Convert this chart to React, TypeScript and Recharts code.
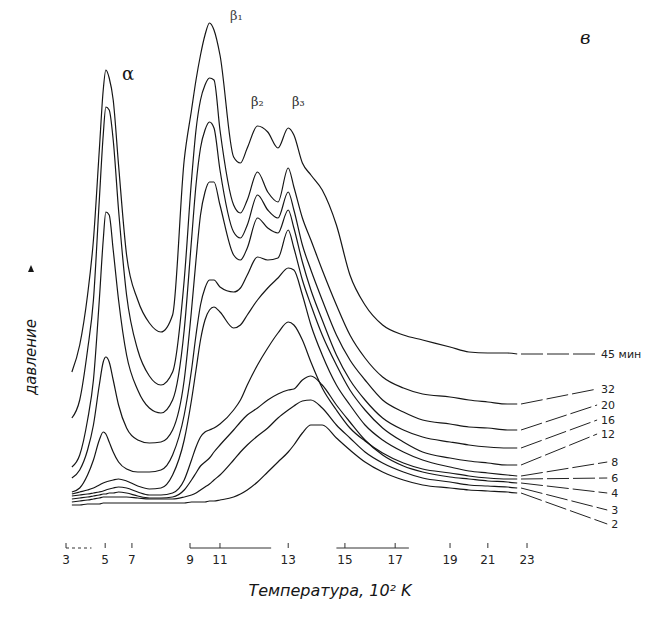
import React from "react";
import {
  LineChart,
  Line,
  XAxis,
  YAxis,
  ReferenceLine,
  LabelList,
  Customized,
} from "recharts";

// temperature grid, 10^2 K
const TEMPS = [
  3.3, 3.7, 4.1, 4.4, 4.7, 4.9, 5.05, 5.3, 5.6, 6.0, 6.6, 7.2, 7.6, 8.0, 8.4,
  8.8, 9.1, 9.4, 9.7, 10.0, 10.3, 10.6, 11.0, 11.4, 11.6, 11.8, 12.1, 12.4,
  12.7, 13.0, 13.2, 13.5, 13.8, 14.2, 14.7, 15.2, 15.8, 16.5, 17.3, 18.0, 19.0,
  20.0, 21.0, 22.0, 22.5,
];

// pressure, arbitrary units, one array per exposure time
const P45 = [13.8, 16.5, 21.5, 27.0, 36.0, 42.0, 44.0, 43.2, 41.0, 34.5, 25.5, 21.0, 18.7, 17.8, 19.5, 35.0, 40.0, 43.0, 45.5, 47.5, 48.7, 48.0, 45.5, 35.3, 34.7, 36.2, 38.4, 37.8, 36.2, 38.2, 37.5, 34.7, 33.5, 32.0, 28.5, 23.5, 20.5, 18.5, 17.5, 17.0, 16.3, 15.8, 15.7, 15.7, 15.6];
const P32 = [9.2, 11.0, 16.0, 21.0, 31.0, 37.5, 40.3, 40.0, 37.0, 30.0, 21.5, 16.0, 13.4, 12.5, 13.8, 23.0, 33.0, 38.0, 41.0, 42.5, 43.2, 43.0, 38.0, 30.5, 29.7, 31.0, 33.8, 31.8, 30.8, 34.2, 32.3, 29.2, 27.0, 24.0, 20.5, 17.5, 15.2, 13.3, 12.2, 11.6, 11.3, 11.0, 10.8, 10.6, 10.6];
const P20 = [4.3, 5.5, 9.0, 13.0, 21.0, 27.0, 29.8, 29.5, 26.0, 21.0, 15.5, 12.0, 10.2, 9.7, 11.0, 18.0, 27.0, 32.5, 36.2, 38.0, 38.8, 38.2, 34.0, 27.8, 27.2, 28.5, 31.5, 30.0, 29.2, 31.8, 30.0, 26.5, 24.0, 21.0, 17.5, 15.0, 13.0, 11.0, 9.8, 9.0, 8.6, 8.3, 8.2, 8.0, 8.0];
const P16 = [3.2, 4.0, 6.0, 8.5, 12.5, 14.8, 15.3, 14.8, 13.0, 10.5, 8.2, 7.0, 6.7, 6.8, 8.0, 13.0, 20.0, 25.0, 29.5, 31.8, 32.8, 32.8, 30.5, 25.5, 25.0, 26.2, 29.2, 28.2, 27.7, 30.0, 28.2, 24.8, 22.0, 19.0, 15.5, 13.0, 11.0, 9.2, 8.0, 7.3, 6.8, 6.5, 6.3, 6.2, 6.2];
const P12 = [1.8, 2.2, 3.5, 5.0, 7.0, 7.8, 7.6, 6.8, 5.8, 4.8, 4.1, 3.8, 3.8, 4.0, 5.5, 9.5, 14.0, 17.5, 20.5, 22.2, 23.0, 23.0, 22.3, 21.8, 22.2, 23.5, 25.3, 25.0, 25.2, 28.0, 26.2, 23.0, 20.5, 17.5, 14.5, 12.0, 10.0, 8.2, 6.8, 5.8, 5.2, 4.9, 4.7, 4.5, 4.5];
const P8 = [1.6, 1.8, 2.0, 2.2, 2.5, 2.7, 2.8, 2.9, 3.0, 3.1, 2.9, 2.4, 2.1, 2.2, 3.5, 7.0, 11.0, 14.0, 17.0, 19.0, 20.0, 20.3, 19.8, 18.2, 18.5, 19.5, 21.0, 22.2, 23.2, 24.2, 24.0, 21.5, 18.5, 15.5, 12.5, 10.5, 8.5, 7.0, 5.8, 5.0, 4.3, 3.9, 3.7, 3.5, 3.4];
const P6 = [1.4, 1.5, 1.6, 1.7, 1.8, 1.9, 2.0, 2.1, 2.2, 2.3, 2.2, 1.8, 1.5, 1.5, 1.7, 3.0, 5.0, 6.3, 7.3, 7.8, 8.0, 8.2, 8.6, 10.0, 11.0, 12.5, 14.5, 16.2, 17.7, 18.8, 18.5, 17.0, 14.8, 12.2, 10.0, 8.2, 6.9, 5.7, 4.7, 4.1, 3.7, 3.4, 3.2, 3.1, 3.1];
const P4 = [1.1, 1.2, 1.3, 1.4, 1.5, 1.6, 1.6, 1.7, 1.7, 1.8, 1.7, 1.4, 1.2, 1.2, 1.3, 2.0, 3.0, 3.7, 4.4, 4.8, 5.2, 5.8, 6.5, 8.0, 8.8, 9.5, 10.2, 11.0, 11.6, 12.0, 12.1, 13.0, 13.4, 12.5, 10.5, 8.8, 7.0, 5.5, 4.4, 3.8, 3.3, 3.1, 2.9, 2.8, 2.7];
const P3 = [0.8, 0.9, 1.0, 1.1, 1.2, 1.3, 1.3, 1.3, 1.3, 1.3, 1.3, 1.2, 1.1, 1.1, 1.1, 1.3, 1.5, 1.7, 2.0, 2.3, 2.6, 3.0, 3.5, 5.0, 5.8, 6.5, 7.4, 8.2, 9.2, 10.0, 10.4, 10.9, 11.0, 10.2, 8.5, 7.2, 5.8, 4.7, 3.8, 3.2, 2.8, 2.5, 2.4, 2.3, 2.2];
const P2 = [0.5, 0.5, 0.6, 0.6, 0.6, 0.7, 0.7, 0.7, 0.7, 0.7, 0.7, 0.7, 0.7, 0.7, 0.7, 0.7, 0.8, 0.8, 0.8, 0.8, 0.9, 0.9, 1.0, 1.3, 1.6, 2.0, 2.8, 3.8, 4.8, 5.8, 6.5, 7.7, 8.5, 8.5, 7.2, 6.0, 4.8, 3.8, 3.0, 2.5, 2.2, 2.0, 1.9, 1.8, 1.7];

const SERIES_KEYS = ["t45", "t32", "t20", "t16", "t12", "t8", "t6", "t4", "t3", "t2"];
const SERIES_VALUES = [P45, P32, P20, P16, P12, P8, P6, P4, P3, P2];
const END_LABELS = ["45 мин", "32", "20", "16", "12", "8", "6", "4", "3", "2"];
// height of each end label (same units as pressure)
const LABEL_LEVEL = [15.6, 12.1, 10.5, 9.0, 7.6, 4.8, 3.2, 1.7, 0.0, -1.4];

// the printed temperature axis is not uniform: tick labels and where they sit
const TICK_T = [3, 5, 7, 9, 11, 13, 15, 17, 19, 21, 23];
const TICK_POS = [0, 8.5, 14.3, 26.9, 33.4, 48.2, 60.5, 71.4, 83.3, 91.5, 100];

const Y_MIN = -3.8;
const Y_MAX = 50;
const LEADER_START = 98.7;
const LEADER_END_HI = 115.2;
const LEADER_END_LO = 117.4;

function tToPos(t: number) {
  const n = TICK_T.length;
  let i = 0;
  while (i < n - 2 && t > TICK_T[i + 1]) i++;
  const f = (t - TICK_T[i]) / (TICK_T[i + 1] - TICK_T[i]);
  return TICK_POS[i] + f * (TICK_POS[i + 1] - TICK_POS[i]);
}

const data = TEMPS.map((t, i) => {
  const row: Record<string, number> = { pos: tToPos(t) };
  SERIES_KEYS.forEach((k, j) => {
    row[k] = SERIES_VALUES[j][i];
  });
  return row;
});

const leaders = SERIES_VALUES.map((vals, j) => [
  { pos: LEADER_START, v: vals[vals.length - 1] },
  { pos: j < 5 ? LEADER_END_HI : LEADER_END_LO, v: LABEL_LEVEL[j] },
]);

const INK = "#161616";

const AxisTick = (props: any) => {
  const { x, y, payload } = props;
  const idx = TICK_POS.indexOf(payload.value);
  return (
    <g>
      <line x1={x} x2={x} y1={y - 5} y2={y} stroke="#333" strokeWidth={1} />
      <text
        x={x}
        y={y + 16}
        textAnchor="middle"
        fontSize={12}
        fontFamily="'DejaVu Sans', sans-serif"
        fill="#222"
      >
        {TICK_T[idx]}
      </text>
    </g>
  );
};

const Annotations = () => (
  <g fill={INK}>
    <text x={122} y={80} fontSize={18} fontFamily="'DejaVu Serif', serif">α</text>
    <text x={230} y={20} fontSize={13} fontFamily="'DejaVu Serif', serif" fill="#444">β₁</text>
    <text x={251} y={106} fontSize={13} fontFamily="'DejaVu Serif', serif" fill="#333">β₂</text>
    <text x={292} y={106} fontSize={13} fontFamily="'DejaVu Serif', serif" fill="#333">β₃</text>
    <text x={580} y={44} fontSize={18} fontStyle="italic" fontFamily="'DejaVu Serif', serif">в</text>
    <path d="M28 272 L31 265 L34 272 Z" fill={INK} />
    <text
      x={36}
      y={357}
      transform="rotate(-90 36 357)"
      textAnchor="middle"
      fontSize={15}
      fontStyle="italic"
      fontFamily="'DejaVu Sans', sans-serif"
    >
      давление
    </text>
    <text
      x={330}
      y={596}
      textAnchor="middle"
      fontSize={16}
      fontStyle="italic"
      fontFamily="'DejaVu Sans', sans-serif"
    >
      Температура, 10² K
    </text>
  </g>
);

export default function App() {
  return (
    <div style={{ margin: -8, width: 653, height: 623, background: "#fff" }}>
      <LineChart
        width={653}
        height={623}
        data={data}
        margin={{ top: 10, right: 1.5, bottom: 0, left: 66 }}
      >
        <XAxis
          type="number"
          dataKey="pos"
          domain={[0, 127]}
          ticks={TICK_POS}
          interval={0}
          tick={AxisTick}
          tickLine={false}
          axisLine={false}
          tickSize={0}
          tickMargin={0}
          height={75}
          allowDataOverflow
        />
        <YAxis hide type="number" domain={[Y_MIN, Y_MAX]} allowDataOverflow />
        <ReferenceLine
          segment={[{ x: tToPos(3), y: Y_MIN }, { x: tToPos(4.3), y: Y_MIN }]}
          stroke="#333"
          strokeDasharray="3 3"
          ifOverflow="visible"
        />
        <ReferenceLine
          segment={[{ x: tToPos(9), y: Y_MIN }, { x: tToPos(12.5), y: Y_MIN }]}
          stroke="#333"
          ifOverflow="visible"
        />
        <ReferenceLine
          segment={[{ x: tToPos(14.7), y: Y_MIN }, { x: tToPos(17.5), y: Y_MIN }]}
          stroke="#333"
          ifOverflow="visible"
        />
        {SERIES_KEYS.map((k) => (
          <Line
            key={k}
            type="monotone"
            dataKey={k}
            stroke={INK}
            strokeWidth={1.2}
            dot={false}
            isAnimationActive={false}
          />
        ))}
        {leaders.map((pts, j) => (
          <Line
            key={`leader-${j}`}
            data={pts}
            dataKey="v"
            type="linear"
            stroke="#222"
            strokeWidth={1}
            strokeDasharray="22 4"
            dot={false}
            isAnimationActive={false}
          >
            <LabelList
              dataKey="v"
              content={(p: any) =>
                p.index === 1 ? (
                  <text
                    x={p.x + 4}
                    y={p.y}
                    dy="0.35em"
                    fontSize={11}
                    fontFamily="'DejaVu Sans', sans-serif"
                    fill="#222"
                  >
                    {END_LABELS[j]}
                  </text>
                ) : null
              }
            />
          </Line>
        ))}
        <Customized component={Annotations} />
      </LineChart>
    </div>
  );
}
